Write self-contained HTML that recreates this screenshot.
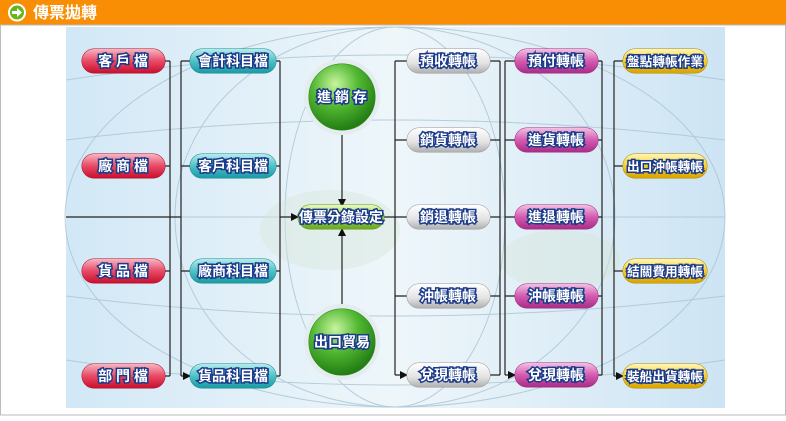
<!DOCTYPE html>
<html><head><meta charset="utf-8"><style>
body{margin:0;width:786px;height:416px;background:#fff;overflow:hidden;font-family:"Liberation Sans","Noto Sans CJK TC",sans-serif}
</style></head><body>
<svg width="786" height="416" xmlns="http://www.w3.org/2000/svg" font-family="Liberation Sans, Noto Sans CJK TC, sans-serif">
<defs>
<linearGradient id="bg" x1="0" y1="0" x2="1" y2="0"><stop offset="0" stop-color="#d2e8f6"/><stop offset=".5" stop-color="#eef6fa"/><stop offset="1" stop-color="#cde4f4"/></linearGradient>
<linearGradient id="red" x1="0" y1="0" x2="0" y2="1"><stop offset="0" stop-color="#f7b6c2"/><stop offset=".5" stop-color="#e84a66"/><stop offset="1" stop-color="#c8102e"/></linearGradient>
<linearGradient id="teal" x1="0" y1="0" x2="0" y2="1"><stop offset="0" stop-color="#b5ecec"/><stop offset=".5" stop-color="#4fc2c6"/><stop offset="1" stop-color="#1a9aa3"/></linearGradient>
<linearGradient id="gray" x1="0" y1="0" x2="0" y2="1"><stop offset="0" stop-color="#ffffff"/><stop offset=".6" stop-color="#e2e2e2"/><stop offset="1" stop-color="#b0b0b0"/></linearGradient>
<linearGradient id="pink" x1="0" y1="0" x2="0" y2="1"><stop offset="0" stop-color="#f3c0e2"/><stop offset=".5" stop-color="#d45bb0"/><stop offset="1" stop-color="#a92d86"/></linearGradient>
<linearGradient id="yel" x1="0" y1="0" x2="0" y2="1"><stop offset="0" stop-color="#fff6b8"/><stop offset=".5" stop-color="#f5cf2a"/><stop offset="1" stop-color="#d8a300"/></linearGradient>
<linearGradient id="lime" x1="0" y1="0" x2="0" y2="1"><stop offset="0" stop-color="#e8f8c0"/><stop offset=".5" stop-color="#9fd44a"/><stop offset="1" stop-color="#6aa820"/></linearGradient>
<radialGradient id="ball" cx=".4" cy=".3" r=".7"><stop offset="0" stop-color="#c8f5a0"/><stop offset=".5" stop-color="#52b832"/><stop offset="1" stop-color="#237d14"/></radialGradient>
<marker id="a" markerWidth="8" markerHeight="8" refX="7" refY="4" orient="auto" markerUnits="userSpaceOnUse"><path d="M0,0L8,4L0,8z" fill="#111"/></marker>
</defs>
<rect x="0" y="0" width="786" height="25" fill="#f98e05"/>
<circle cx="17" cy="12.5" r="9" fill="#fff"/><circle cx="17" cy="12.5" r="7" fill="#6ab41e"/>
<path d="M12,11h5v-3l5,4.5l-5,4.5v-3h-5z" fill="#fff"/>
<text x="33" y="18" font-size="16" fill="#fff" font-weight="bold">傳票拋轉</text>
<rect x="0.5" y="25" width="785" height="390" fill="#fff" stroke="#bbb"/>
<rect x="66" y="27" width="659" height="381" fill="url(#bg)"/>
<g stroke="#a9c4d2" fill="none" stroke-width="1" opacity=".8">
<ellipse cx="395" cy="217" rx="330" ry="190"/><ellipse cx="395" cy="217" rx="220" ry="190"/><ellipse cx="395" cy="217" rx="110" ry="190"/>
<path d="M66,217H725M66,140Q395,100 725,140M66,296Q395,336 725,296M66,80Q395,30 725,80M66,360Q395,410 725,360"/>
</g>
<ellipse cx="330" cy="230" rx="70" ry="40" fill="#d6e6d6" opacity=".4"/>
<ellipse cx="560" cy="260" rx="60" ry="30" fill="#d6e6d6" opacity=".4"/>
<g stroke="#222" stroke-width="1.2" fill="none">
<path d="M165,61H170M165,166H170M165,271H170M165,376H170M170,61V376M181,61V376M66,217H181"/>
<path d="M181,61H190M181,166H190M181,271H190M181,376H190" marker-end="url(#a)"/>
<path d="M276,61H280M276,166H280M276,271H280M276,376H280M280,61V376"/>
<path d="M280,217H298" marker-end="url(#a)"/>
<path d="M342,130V206" marker-end="url(#a)"/><path d="M342,309V229" marker-end="url(#a)"/>
<path d="M384,217H395M395,61V375"/>
<path d="M395,61H407M395,140H407M395,217H407M395,296H407M395,375H407" marker-end="url(#a)"/>
<path d="M490,61H500M490,140H500M490,217H500M490,296H500M490,375H500M500,61V375M505,61V375"/>
<path d="M505,61H515M505,140H515M505,217H515M505,296H515M505,375H515" marker-end="url(#a)"/>
<path d="M598,61H602M598,140H602M598,217H602M598,296H602M598,375H602M602,61V375M614,61V376"/>
<path d="M614,61H623M614,166H623M614,271H623M614,376H623" marker-end="url(#a)"/>
</g>
<g font-size="14" font-weight="bold" fill="#fff" stroke="#1a3a8a" stroke-width="3" paint-order="stroke" text-anchor="middle">
<g><rect x="82" y="49" width="83" height="24" rx="12" fill="url(#red)" stroke="#b0102a" stroke-width="1"/><text x="123" y="66">客 戶 檔</text></g>
<g><rect x="82" y="154" width="83" height="24" rx="12" fill="url(#red)" stroke="#b0102a" stroke-width="1"/><text x="123" y="171">廠 商 檔</text></g>
<g><rect x="82" y="259" width="83" height="24" rx="12" fill="url(#red)" stroke="#b0102a" stroke-width="1"/><text x="123" y="276">貨 品 檔</text></g>
<g><rect x="82" y="364" width="83" height="24" rx="12" fill="url(#red)" stroke="#b0102a" stroke-width="1"/><text x="123" y="381">部 門 檔</text></g>
<g><rect x="190" y="49" width="86" height="24" rx="12" fill="url(#teal)" stroke="#1a8a90" stroke-width="1"/><text x="233" y="66">會計科目檔</text></g>
<g><rect x="190" y="154" width="86" height="24" rx="12" fill="url(#teal)" stroke="#1a8a90" stroke-width="1"/><text x="233" y="171">客戶科目檔</text></g>
<g><rect x="190" y="259" width="86" height="24" rx="12" fill="url(#teal)" stroke="#1a8a90" stroke-width="1"/><text x="233" y="276">廠商科目檔</text></g>
<g><rect x="190" y="364" width="86" height="24" rx="12" fill="url(#teal)" stroke="#1a8a90" stroke-width="1"/><text x="233" y="381">貨品科目檔</text></g>
<circle cx="342" cy="97" r="38" fill="#e4ecef" stroke="none"/><circle cx="342" cy="97" r="33" fill="url(#ball)" stroke="#2a8a1a" stroke-width="1"/><text x="342" y="102">進 銷 存</text>
<circle cx="342" cy="342" r="38" fill="#e4ecef" stroke="none"/><circle cx="342" cy="342" r="33" fill="url(#ball)" stroke="#2a8a1a" stroke-width="1"/><text x="342" y="347">出口貿易</text>
<g><rect x="298" y="205" width="86" height="24" rx="12" fill="url(#lime)" stroke="#5a9a10" stroke-width="1"/><text x="341" y="222">傳票分錄設定</text></g>
<g><rect x="407" y="49" width="83" height="24" rx="12" fill="url(#gray)" stroke="#999" stroke-width="1"/><text x="448" y="66">預收轉帳</text></g>
<g><rect x="407" y="128" width="83" height="24" rx="12" fill="url(#gray)" stroke="#999" stroke-width="1"/><text x="448" y="145">銷貨轉帳</text></g>
<g><rect x="407" y="205" width="83" height="24" rx="12" fill="url(#gray)" stroke="#999" stroke-width="1"/><text x="448" y="222">銷退轉帳</text></g>
<g><rect x="407" y="284" width="83" height="24" rx="12" fill="url(#gray)" stroke="#999" stroke-width="1"/><text x="448" y="301">沖帳轉帳</text></g>
<g><rect x="407" y="363" width="83" height="24" rx="12" fill="url(#gray)" stroke="#999" stroke-width="1"/><text x="448" y="380">兌現轉帳</text></g>
<g><rect x="515" y="49" width="83" height="24" rx="12" fill="url(#pink)" stroke="#a02a80" stroke-width="1"/><text x="556" y="66">預付轉帳</text></g>
<g><rect x="515" y="128" width="83" height="24" rx="12" fill="url(#pink)" stroke="#a02a80" stroke-width="1"/><text x="556" y="145">進貨轉帳</text></g>
<g><rect x="515" y="205" width="83" height="24" rx="12" fill="url(#pink)" stroke="#a02a80" stroke-width="1"/><text x="556" y="222">進退轉帳</text></g>
<g><rect x="515" y="284" width="83" height="24" rx="12" fill="url(#pink)" stroke="#a02a80" stroke-width="1"/><text x="556" y="301">沖帳轉帳</text></g>
<g><rect x="515" y="363" width="83" height="24" rx="12" fill="url(#pink)" stroke="#a02a80" stroke-width="1"/><text x="556" y="380">兌現轉帳</text></g>
<g font-size="12.5"><rect x="623" y="49" width="84" height="24" rx="12" fill="url(#yel)" stroke="#b08a00" stroke-width="1"/><text x="665" y="66" textLength="76" lengthAdjust="spacingAndGlyphs">盤點轉帳作業</text></g>
<g font-size="12.5"><rect x="623" y="154" width="84" height="24" rx="12" fill="url(#yel)" stroke="#b08a00" stroke-width="1"/><text x="665" y="171" textLength="76" lengthAdjust="spacingAndGlyphs">出口沖帳轉帳</text></g>
<g font-size="12.5"><rect x="623" y="259" width="84" height="24" rx="12" fill="url(#yel)" stroke="#b08a00" stroke-width="1"/><text x="665" y="276" textLength="76" lengthAdjust="spacingAndGlyphs">結關費用轉帳</text></g>
<g font-size="12.5"><rect x="623" y="364" width="84" height="24" rx="12" fill="url(#yel)" stroke="#b08a00" stroke-width="1"/><text x="665" y="381" textLength="76" lengthAdjust="spacingAndGlyphs">裝船出貨轉帳</text></g>
</g>
</svg>
</body></html>
